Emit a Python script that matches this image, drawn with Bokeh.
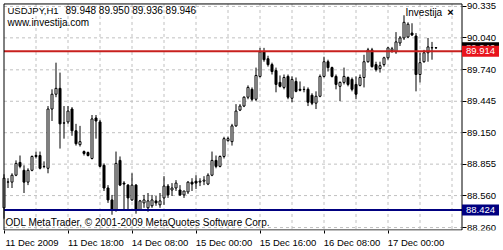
from bokeh.plotting import figure
from bokeh.models import ColumnDataSource, Range1d, FixedTicker, Label, PrintfTickFormatter, LinearAxis
from bokeh.core.properties import value
from bokeh.embed import file_html
from bokeh.resources import INLINE

# ---------------- data (USDJPY H1) ----------------
opens = [88.445, 88.686, 88.686, 88.751, 88.871, 88.797, 88.686, 88.797, 88.927, 88.936,
         88.834, 88.816, 89.372, 89.511, 89.566, 89.242, 89.251, 89.372, 89.168, 89.038,
         88.973, 88.964, 88.908, 89.288, 89.251, 88.844, 88.631, 88.519, 88.427, 88.890,
         88.677, 88.658, 88.519, 88.658, 88.427, 88.491, 88.445, 88.464, 88.510, 88.473,
         88.538, 88.649, 88.612, 88.631, 88.612, 88.566, 88.594, 88.686, 88.695, 88.686,
         88.695, 88.668, 88.751, 88.890, 88.834, 88.927, 89.075, 89.066, 89.214, 89.362,
         89.400, 89.483, 89.557, 89.464, 89.678, 89.909, 89.844, 89.789, 89.733, 89.622,
         89.575, 89.678, 89.473, 89.631, 89.557, 89.557, 89.557, 89.501, 89.427, 89.492,
         89.678, 89.816, 89.761, 89.678, 89.585, 89.622, 89.668, 89.650, 89.603, 89.594,
         89.668, 89.816, 89.927, 89.789, 89.751, 89.789, 89.853, 89.918, 89.909, 89.992,
         90.039, 90.048, 90.085, 90.057, 89.696, 89.816, 89.900, 89.946, 89.948]
highs = [88.760, 88.723, 88.769, 88.890, 88.936, 88.844, 88.816, 88.936, 88.973, 88.973,
         88.881, 89.400, 89.557, 89.807, 89.714, 89.400, 89.400, 89.390, 89.233, 89.214,
         88.983, 88.973, 89.316, 89.316, 89.270, 88.862, 88.658, 88.566, 88.973, 88.927,
         88.695, 88.668, 88.769, 88.668, 88.519, 88.566, 88.584, 88.566, 88.556, 88.584,
         88.742, 88.668, 88.677, 88.705, 88.658, 88.603, 88.695, 88.723, 88.751, 88.723,
         88.742, 88.769, 88.973, 88.936, 88.936, 89.112, 89.112, 89.233, 89.418, 89.418,
         89.492, 89.594, 89.575, 89.761, 89.946, 89.946, 89.872, 89.807, 89.761, 89.687,
         89.696, 89.696, 89.678, 89.668, 89.631, 89.585, 89.575, 89.520, 89.538, 89.696,
         89.863, 89.835, 89.770, 89.696, 89.631, 89.761, 89.678, 89.668, 89.678, 89.696,
         89.881, 89.946, 89.946, 89.816, 89.816, 89.863, 89.955, 89.955, 90.094, 90.057,
         90.252, 90.186, 90.177, 90.085, 89.900, 89.927, 90.039, 90.002, 89.950]
lows = [88.343, 88.631, 88.631, 88.742, 88.816, 88.584, 88.658, 88.788, 88.908, 88.806,
        88.816, 88.769, 89.260, 89.483, 89.001, 89.094, 89.233, 89.121, 89.029, 89.020,
        88.936, 88.927, 88.899, 89.094, 88.825, 88.603, 88.491, 88.380, 88.408, 88.649,
        88.417, 88.417, 88.510, 88.390, 88.417, 88.445, 88.408, 88.445, 88.464, 88.445,
        88.473, 88.538, 88.556, 88.603, 88.556, 88.538, 88.575, 88.603, 88.621, 88.649,
        88.658, 88.658, 88.742, 88.816, 88.825, 88.908, 89.066, 89.029, 89.205, 89.353,
        89.390, 89.464, 89.446, 89.446, 89.668, 89.816, 89.770, 89.696, 89.529, 89.575,
        89.557, 89.464, 89.436, 89.529, 89.538, 89.529, 89.400, 89.409, 89.372, 89.483,
        89.668, 89.724, 89.668, 89.557, 89.446, 89.603, 89.585, 89.538, 89.464, 89.585,
        89.575, 89.807, 89.761, 89.724, 89.714, 89.770, 89.835, 89.900, 89.890, 89.964,
        90.020, 90.039, 90.057, 89.538, 89.622, 89.807, 89.816, 89.835, 89.936]
closes = [88.723, 88.688, 88.751, 88.862, 88.834, 88.686, 88.797, 88.927, 88.936, 88.816,
          88.832, 89.372, 89.511, 89.566, 89.233, 89.240, 89.353, 89.168, 89.047, 89.066,
          88.955, 88.936, 89.279, 89.260, 88.834, 88.631, 88.519, 88.427, 88.862, 88.658,
          88.668, 88.538, 88.658, 88.427, 88.510, 88.519, 88.510, 88.519, 88.491, 88.510,
          88.649, 88.566, 88.631, 88.677, 88.566, 88.603, 88.686, 88.668, 88.677, 88.695,
          88.705, 88.751, 88.890, 88.834, 88.927, 89.094, 89.094, 89.214, 89.353, 89.400,
          89.483, 89.575, 89.464, 89.687, 89.909, 89.835, 89.789, 89.724, 89.603, 89.585,
          89.668, 89.483, 89.650, 89.538, 89.548, 89.555, 89.436, 89.427, 89.492, 89.678,
          89.816, 89.761, 89.678, 89.603, 89.622, 89.678, 89.603, 89.557, 89.511, 89.668,
          89.816, 89.927, 89.770, 89.742, 89.779, 89.853, 89.946, 89.937, 90.002, 90.039,
          90.186, 90.168, 90.067, 89.696, 89.807, 89.900, 89.955, 89.948, 89.946]

x_tick_bars = [0, 16, 32, 48, 64, 80, 96]
x_tick_labels = ["11 Dec 2009", "11 Dec 18:00", "14 Dec 08:00", "15 Dec 00:00",
                 "15 Dec 16:00", "16 Dec 08:00", "17 Dec 00:00"]
grid_bars = [8, 16, 24, 32, 40, 48, 56, 64, 72, 80, 88, 96, 104, 112]
y_ticks = [90.335, 90.040, 89.740, 89.445, 89.150, 88.855, 88.560, 88.260]
level_red = 89.914
level_blue = 88.424
last_close = 89.946
symbol_text = "USDJPY,H1"
ohlc_text = "89.948 89.950 89.936 89.946"
site_text = "www.investija.com"
copyright_text = "ODL MetaTrader, \u00a9 2001-2009 MetaQuotes Software Corp."
indicator_text = "Investija"

# ---------------- layout helpers (pixels -> data) ----------------
W, H = 503, 250
FRAME_H = 233                 # frame covers the whole width, x-axis labels below
PX_PER_BAR = 4.0
PX_PER_UNIT = 107.95
xs = -3.5 / PX_PER_BAR        # bar 0 centred at px 3.5
xe = xs + W / PX_PER_BAR
y_top = 90.335 + 6 / PX_PER_UNIT
y_bot = y_top - FRAME_H / PX_PER_UNIT
FONT = "Liberation Sans"
FS_AX = "9.5px"
FS_TX = "10px"

L_PX, T_PX, R_PX, B_PX = 3.5, 3.5, 461.5, 232.5   # chart border line centres


def px_x(px):
    return xs + px / PX_PER_BAR


def px_y(py):
    return y_top - py / PX_PER_UNIT


p = figure(width=W, height=H, x_range=Range1d(xs, xe), y_range=Range1d(y_bot, y_top),
           toolbar_location=None, output_backend="svg", title=None,
           y_axis_location=None, min_border_left=0, min_border_top=0,
           min_border_right=0, min_border_bottom=H - FRAME_H)
p.background_fill_color = "white"
p.border_fill_color = "white"
p.outline_line_color = None
p.xgrid.visible = False
p.ygrid.visible = False

# dashed grid, limited to the chart box
GRID = dict(line_color="#c0c0c0", line_dash="3 3", line_width=1)
p.segment(x0=[px_x(L_PX)] * len(y_ticks), x1=[px_x(R_PX)] * len(y_ticks),
          y0=y_ticks, y1=y_ticks, **GRID)
p.segment(x0=grid_bars, x1=grid_bars, y0=[px_y(T_PX)] * len(grid_bars),
          y1=[px_y(B_PX)] * len(grid_bars), **GRID)

# x axis: labels begin at the bar, so their centres are shifted right
shift = 7
xa = p.xaxis[0]
xa.ticker = FixedTicker(ticks=[b + shift for b in x_tick_bars], minor_ticks=x_tick_bars)
xa.major_label_overrides = {b + shift: t for b, t in zip(x_tick_bars, x_tick_labels)}
xa.major_tick_out = 0
xa.major_tick_in = 0
xa.minor_tick_out = 3
xa.minor_tick_in = 0
xa.minor_tick_line_color = "black"
xa.axis_line_color = None
xa.major_label_standoff = 3
xa.major_label_text_font = FONT
xa.major_label_text_font_size = FS_AX
xa.major_label_text_color = "black"

# price scale on the right edge of the chart box
ya = LinearAxis(fixed_location=px_x(R_PX))
ya.ticker = FixedTicker(ticks=y_ticks)
ya.formatter = PrintfTickFormatter(format="%.3f")
ya.major_tick_out = 4
ya.major_tick_in = 0
ya.major_tick_line_color = "black"
ya.minor_tick_out = 0
ya.minor_tick_in = 0
ya.axis_line_color = None
ya.major_label_standoff = 1
ya.major_label_text_font = FONT
ya.major_label_text_font_size = FS_AX
ya.major_label_text_color = "black"
p.add_layout(ya, "right")

# candles
idx = list(range(len(opens)))
up = [i for i in idx if closes[i] >= opens[i]]
dn = [i for i in idx if closes[i] < opens[i]]

wick = ColumnDataSource(dict(x=idx, h=highs, l=lows))
p.segment(x0="x", y0="l", x1="x", y1="h", source=wick, line_color="black", line_width=1)

src_up = ColumnDataSource(dict(x=up, top=[closes[i] for i in up], bottom=[opens[i] for i in up]))
src_dn = ColumnDataSource(dict(x=dn, top=[opens[i] for i in dn], bottom=[closes[i] for i in dn]))
p.vbar(x="x", width=0.5, top="top", bottom="bottom", source=src_up,
       fill_color="white", line_color="black", line_width=1)
p.vbar(x="x", width=0.5, top="top", bottom="bottom", source=src_dn,
       fill_color="black", line_color="black", line_width=1)

# horizontal levels
p.segment(x0=[px_x(L_PX)], x1=[px_x(R_PX)], y0=[level_red], y1=[level_red],
          line_color="#c8201e", line_width=2)
p.segment(x0=[px_x(L_PX)], x1=[px_x(R_PX)], y0=[level_blue], y1=[level_blue],
          line_color="#000080", line_width=2)

# chart box border
bx0 = [px_x(L_PX), px_x(L_PX), px_x(L_PX), px_x(R_PX)]
bx1 = [px_x(R_PX), px_x(R_PX), px_x(L_PX), px_x(R_PX)]
by0 = [px_y(T_PX), px_y(B_PX), px_y(T_PX), px_y(T_PX)]
by1 = [px_y(T_PX), px_y(B_PX), px_y(B_PX), px_y(B_PX)]
p.segment(x0=bx0, x1=bx1, y0=by0, y1=by1, line_color="black", line_width=1)

# price tags on the right scale (drawn in order: last price, red level, blue level)
for val, bg in ((last_close, "black"), (level_red, "#e8141c"), (level_blue, "#000080")):
    p.rect(x=[px_x(480)], y=[val], width=37, height=11, width_units="screen",
           height_units="screen", fill_color=bg, line_color=None)
    p.text(x=[px_x(480)], y=[val], text=["%.3f" % val], text_color="white",
           text_align="center", text_baseline="middle", text_font=value(FONT),
           text_font_size=value(FS_AX))

# texts inside the chart
def note(px, py, txt, size=FS_TX, style="normal", align="left"):
    p.add_layout(Label(x=px_x(px), y=px_y(py), text=txt, text_align=align,
                       text_baseline="middle", text_font=FONT, text_font_size=size,
                       text_font_style=style, text_color="black"))


note(7, 10, symbol_text, size=FS_AX)
note(65, 10, ohlc_text)
note(7, 22, site_text)
note(5, 225, copyright_text)
note(405, 12, indicator_text)
note(450, 12, "\u00d7", size="11px", style="bold", align="center")

open("out.html", "w").write(file_html(p, INLINE))
